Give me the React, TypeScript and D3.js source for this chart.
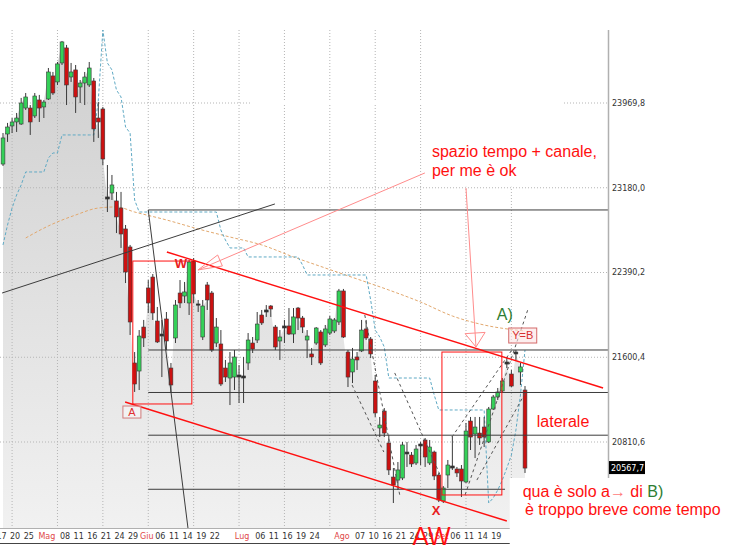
import React from 'react';
import * as d3 from 'd3';

// daily candles, [open, high, low, close]
const candles: [number, number, number, number][] = [
  [23401, 23690, 23383, 23644], [23681, 23784, 23607, 23746], [23756, 23830, 23690, 23793], [23793, 23877, 23700, 23830],
  [23774, 24017, 23765, 23970], [23923, 24063, 23905, 24026], [23923, 23951, 23672, 23793], [23849, 24063, 23830, 24035],
  [23998, 24045, 23793, 23923], [23933, 23998, 23830, 23979], [24007, 24296, 23998, 24259], [24222, 24259, 24045, 24063],
  [24166, 24352, 24138, 24334], [24343, 24548, 24324, 24539], [24483, 24511, 23951, 24138], [24212, 24343, 24166, 24259],
  [24278, 24324, 23877, 24026], [24119, 24184, 23970, 24156], [24156, 24259, 23951, 24212], [24138, 24352, 24119, 24296],
  [24175, 24203, 23607, 23728], [23830, 23979, 23644, 23793], [23914, 23933, 23392, 23448], [23094, 23392, 22954, 23075],
  [23131, 23299, 23066, 23206], [23057, 23141, 22758, 22908], [22991, 23141, 22619, 22749], [22796, 22833, 22292, 22395],
  [22628, 22647, 21808, 21929], [21547, 21649, 21277, 21351], [21472, 21854, 21295, 21798], [21882, 21948, 21696, 21780],
  [22246, 22320, 22013, 22106], [22348, 22376, 21948, 22013], [21938, 22069, 21733, 21743], [21817, 21948, 21416, 21798],
  [21957, 22022, 21668, 21752], [21500, 21547, 21267, 21342], [21780, 22134, 21733, 22087], [22199, 22320, 22059, 22106],
  [22171, 22302, 22106, 22209], [22106, 22507, 21994, 22488], [22497, 22525, 22106, 22190], [22097, 22134, 22022, 22087],
  [21789, 22134, 21761, 22078], [22274, 22302, 22041, 22134], [22199, 22218, 21649, 21668], [21733, 21966, 21696, 21882],
  [21724, 21854, 21332, 21351], [21500, 21575, 21370, 21416], [21407, 21649, 21155, 21547], [21416, 21668, 21295, 21603],
  [21435, 21528, 21174, 21416], [21407, 21603, 21174, 21426], [21547, 21826, 21482, 21761], [21733, 21789, 21640, 21677],
  [21761, 22022, 21733, 21910], [21994, 22041, 21901, 21920], [22041, 22087, 21976, 22022], [22078, 22087, 21976, 22050],
  [21882, 21901, 21668, 21696], [21752, 21854, 21575, 21789], [21892, 21948, 21733, 21873], [21892, 22059, 21808, 21817],
  [21817, 22059, 21733, 21976], [22059, 22069, 21854, 21966], [21966, 21985, 21826, 21882], [21761, 21854, 21593, 21798],
  [21631, 21687, 21528, 21603], [21733, 21882, 21715, 21873], [21836, 21854, 21528, 21547], [21715, 21901, 21696, 21864],
  [21826, 21985, 21808, 21957], [21845, 21966, 21826, 21948], [21929, 22237, 21901, 22218], [22218, 22237, 21780, 21789],
  [21649, 21668, 21323, 21416], [21463, 21687, 21360, 21584], [21603, 21649, 21482, 21575], [21659, 21948, 21649, 21854],
  [21864, 21948, 21761, 21780], [21770, 21789, 21593, 21631], [21379, 21435, 21044, 21081], [20941, 21044, 20857, 20969],
  [21099, 21127, 20857, 20894], [20801, 20876, 20503, 20550], [20484, 20568, 20242, 20410], [20456, 20624, 20363, 20550],
  [20475, 20811, 20456, 20783], [20717, 20811, 20578, 20699], [20689, 20717, 20578, 20606], [20615, 20783, 20596, 20745],
  [20792, 20811, 20596, 20773], [20829, 20848, 20578, 20671], [20615, 20829, 20596, 20764], [20717, 20730, 20456, 20494],
  [20503, 20522, 20251, 20270], [20261, 20400, 20242, 20382], [20503, 20643, 20382, 20596], [20587, 20866, 20550, 20568],
  [20559, 20578, 20484, 20522], [20559, 20596, 20298, 20447], [20438, 20988, 20428, 20913], [21006, 21044, 20736, 20857],
  [20885, 21044, 20661, 20950], [20894, 21044, 20783, 20848], [20950, 21044, 20764, 20857], [20811, 21137, 20801, 21118],
  [21118, 21249, 21109, 21230], [21230, 21314, 21202, 21277], [21286, 21407, 21267, 21379], [21556, 21603, 21500, 21537],
  [21444, 21482, 21323, 21332], [21649, 21668, 21575, 21631], [21463, 21547, 21342, 21510], [21295, 21332, 20522, 20567.7],
];

// trailing stop (cyan dashed), one value per candle
const trailStop = [
  22647, 22833, 22991, 23113, 23206, 23327, 23327, 23327, 23327, 23327,
  23457, 23504, 23504, 23672, 23672, 23672, 23672, 23672, 23672, 23672,
  23672, 23998, 24650, 24343, 24278, 24091, 24026, 23746, 23690, 23066,
  22954, 22954, 22954, 22954, 22954, 22954, 22954, 22954, 22954, 22954,
  22954, 22954, 22954, 22954, 22954, 22954, 22954, 22954, 22786, 22693,
  22619, 22619, 22619, 22619, 22535, 22535, 22535, 22535, 22535, 22535,
  22535, 22535, 22535, 22535, 22535, 22535, 22460, 22367, 22367, 22367,
  22367, 22367, 22367, 22367, 22367, 22367, 22367, 22367, 22367, 22367,
  22367, 22134, 21854, 21789, 21696, 21407, 21407, 21407, 21407, 21407,
  21407, 21407, 21407, 21407, 21407, 21249, 21109, 21109, 21109, 21109,
  21109, 21109, 21109, 21109, 21109, 21109, 21109, 20242, 20289, 20363,
  20456, 20568, 20689, 20922, 21249, 21668,
];

// moving average (tan dashed), [candle index, value]
const movingAvg: [number, number][] = [
  [5, 22712], [10, 22824], [16, 22926], [21, 22991], [25, 23001], [29, 22954],
  [36, 22880], [43, 22796], [50, 22721], [57, 22647], [64, 22535], [71, 22432],
  [78, 22330], [85, 22227], [92, 22115], [99, 21985], [106, 21901], [115, 21845],
];

const priceTicks = [23969.8, 23180.0, 22390.2, 21600.4, 20810.6];
const dateTicks: [number, string][] = [
  [0, '17'], [3, '20'], [6, '25'], [10, 'Mag'], [14, '08'], [17, '11'], [20, '16'], [23, '21'], [26, '24'], [29, '29'],
  [32, 'Giu'], [35, '06'], [38, '11'], [41, '14'], [44, '19'], [47, '22'], [53, 'Lug'], [57, '06'], [60, '11'], [63, '16'],
  [66, '19'], [69, '24'], [75, 'Ago'], [79, '07'], [82, '10'], [85, '16'], [88, '21'], [91, '24'], [94, '29'], [97, 'Set'],
  [100, '06'], [103, '11'], [106, '14'], [109, '19'],
];
const monthNames = ['Mag', 'Giu', 'Lug', 'Ago', 'Set'];

// hand drawn annotations, in [candle index, price]
const levels: [number, number, number | null][] = [
  [32, 22973, null], [32, 21668, null], [32, 21272, null], [32, 20874, null], [32, 20370, 110.6],
];
const blackLines: number[][] = [[-0.2, 22199, 59.9, 23029], [32, 22973, 40.75, 20009]];
const redLines: number[][] = [[36.1, 22581, 132.2, 21314], [26.9, 21183, 111, 20074]];
const redBoxes: number[][] = [[28.6, 22497, 41.6, 21165], [96.7, 21649, 109.9, 20317]];
const dashedLines: number[][] = [
  [79.7, 21994, 87.4, 20317], [76.9, 21342, 83.9, 20717], [86.3, 21454, 96.3, 20503],
  [98.9, 20857, 112.1, 21668], [101.8, 20317, 115.6, 22041], [104.4, 20456, 115.4, 21295],
];
const arrows: number[][] = [[92.95, 23318, 42.95, 22414, 24, 6], [102, 23178, 104.2, 21696, 14, 10]];

const W = 731;
const H = 552;
const plotTop = 30;
const plotBottom = 528;
const plotRight = 608;

const fmt = (v: number) => v.toFixed(1).replace('.', ',');

function arrowHead(tx: number, ty: number, fx: number, fy: number, len: number, half: number) {
  const dx = fx - tx, dy = fy - ty;
  const d = Math.hypot(dx, dy);
  const ux = dx / d, uy = dy / d;
  const bx = tx + ux * len, by = ty + uy * len;
  return `M${tx},${ty}L${bx - uy * half},${by + ux * half}L${bx + uy * half},${by - ux * half}Z`;
}

export default function App() {
  const x = d3.scaleLinear().domain([0, candles.length - 1]).range([3, 525]);
  const y = d3.scaleLinear().domain([20810.6, 23969.8]).range([442, 103]);

  const area = d3.area<[number, number, number, number]>()
    .x((_, i) => x(i))
    .y0(plotBottom)
    .y1(d => y(d[3]));
  const stopLine = d3.line<number>().x((_, i) => x(i)).y(d => y(d));
  const maLine = d3.line<[number, number]>().x(d => x(d[0])).y(d => y(d[1])).curve(d3.curveMonotoneX);

  const red = '#ff1010';
  const green = '#2e7d32';
  const annoFont = '"Liberation Sans", Arial, sans-serif';
  const axisFont = '"DejaVu Sans", Tahoma, sans-serif';

  const last = candles[candles.length - 1][3];
  const noteX = x(114.5);
  const noteY = y(20298);

  return (
    <svg width={W} height={H} style={{ position: 'absolute', left: 0, top: 0, background: '#fff' }}>
      <defs>
        <linearGradient id="areaGrad" gradientUnits="userSpaceOnUse" x1="0" y1="40" x2="0" y2={plotBottom}>
          <stop offset="0" stopColor="#cfcfcf" />
          <stop offset="1" stopColor="#f1f1f1" />
        </linearGradient>
        <clipPath id="plot">
          <rect x={0} y={plotTop} width={plotRight} height={plotBottom - plotTop} />
        </clipPath>
      </defs>

      <g clipPath="url(#plot)">
        <path d={area(candles) || ''} fill="url(#areaGrad)" />

        {/* grid */}
        {d3.range(2, candles.length, 10).map(i => (
          <line key={'gx' + i} x1={x(i)} x2={x(i)} y1={plotTop} y2={plotBottom}
            stroke="#b5b5b5" strokeDasharray="1,2" />
        ))}
        {priceTicks.map(t => (
          <line key={'gy' + t} x1={0} x2={plotRight} y1={y(t)} y2={y(t)}
            stroke="#b5b5b5" strokeDasharray="1,2" />
        ))}
        {/* erased parts of the screenshot */}
        <rect x={250} y={y(priceTicks[0]) - 2} width={313} height={4} fill="#fff" />
        <rect x={423} y={plotTop} width={139} height={y(priceTicks[1]) - plotTop - 1} fill="#fff" />

        <path d={maLine(movingAvg) || ''} fill="none" stroke="#e2a86e" strokeWidth={1} strokeDasharray="3,2" />
        <path d={stopLine(trailStop) || ''} fill="none" stroke="#5fa9c4" strokeWidth={1} strokeDasharray="3,2" />

        {/* candles */}
        {candles.map(([o, h, l, c], i) => {
          const doji = Math.abs(o - c) < 20;
          const up = c >= o;
          const top = y(Math.max(o, c));
          const bh = Math.max(1.2, y(Math.min(o, c)) - top);
          const fill = doji ? '#333' : up ? '#34d058' : '#cc1111';
          return (
            <g key={'c' + i}>
              <line x1={x(i)} x2={x(i)} y1={y(h)} y2={y(l)} stroke="#3a3a3a" strokeWidth={1} />
              <rect x={x(i) - 1.9} y={top} width={3.8} height={bh} fill={fill}
                stroke={doji ? '#333' : '#3a3a3a'} strokeWidth={0.6} />
            </g>
          );
        })}

        {/* drawings */}
        {levels.map(([i0, p, i1], k) => (
          <line key={'lv' + k} x1={x(i0)} x2={i1 === null ? plotRight : x(i1)} y1={y(p)} y2={y(p)}
            stroke="#3c3c3c" strokeWidth={1} />
        ))}
        {blackLines.map(([i0, p0, i1, p1], k) => (
          <line key={'bl' + k} x1={x(i0)} y1={y(p0)} x2={x(i1)} y2={y(p1)} stroke="#3c3c3c" strokeWidth={1} />
        ))}
        {dashedLines.map(([i0, p0, i1, p1], k) => (
          <line key={'dl' + k} x1={x(i0)} y1={y(p0)} x2={x(i1)} y2={y(p1)}
            stroke="#555" strokeWidth={1} strokeDasharray="3,3" />
        ))}
        {redBoxes.map(([i0, p0, i1, p1], k) => (
          <rect key={'rb' + k} x={x(i0)} y={y(p0)} width={x(i1) - x(i0)} height={y(p1) - y(p0)}
            fill="none" stroke={red} strokeWidth={1} />
        ))}
        {redLines.map(([i0, p0, i1, p1], k) => (
          <line key={'rl' + k} x1={x(i0)} y1={y(p0)} x2={x(i1)} y2={y(p1)} stroke={red} strokeWidth={1.4} />
        ))}
      </g>

      {arrows.map(([i0, p0, i1, p1, len, half], k) => (
        <g key={'ar' + k} stroke="#ff8c8c" strokeWidth={1} fill="none">
          <line x1={x(i0)} y1={y(p0)} x2={x(i1)} y2={y(p1)} />
          <path d={arrowHead(x(i1), y(p1), x(i0), y(p0), len, half)} />
        </g>
      ))}

      {/* right price axis */}
      <line x1={plotRight + 0.5} x2={plotRight + 0.5} y1={plotTop} y2={H} stroke="#b0b0b0" strokeWidth={1.5} />
      {priceTicks.map(t => (
        <text key={'yt' + t} x={plotRight + 4} y={y(t)} dy="0.35em" fontSize={8} fontFamily={axisFont} fill="#333">
          {fmt(t)}
        </text>
      ))}
      <rect x={plotRight + 1} y={y(last) - 7} width={36} height={13} fill="#000" />
      <text x={plotRight + 3} y={y(last)} dy="0.35em" fontSize={8} fontFamily={axisFont} fill="#fff">{fmt(last)}</text>

      {/* date axis */}
      <line x1={0} x2={plotRight} y1={plotBottom + 0.5} y2={plotBottom + 0.5} stroke="#b0b0b0" />
      <line x1={0} x2={plotRight} y1={543.5} y2={543.5} stroke="#444" />
      {dateTicks.map(([i, s]) => (
        <text key={'dt' + i} x={x(i) - 1.5} y={536} dy="0.35em" textAnchor="middle" fontSize={8}
          fontFamily={axisFont} fill={monthNames.includes(s) ? '#e04848' : '#333'}>
          {s}
        </text>
      ))}

      {/* labels */}
      <g fontFamily={annoFont}>
        <text x={x(39.2)} y={y(22432)} textAnchor="middle" fontSize={13} fontWeight="bold" fill="#e82020">W</text>
        <rect x={x(28.4) - 9} y={y(21146)} width={18} height={y(21034) - y(21146)} fill="#fff" fillOpacity={0.4}
          stroke="#d27b7b" />
        <text x={x(28.4)} y={y(21034) - 2} textAnchor="middle" fontSize={11} fill="#e03030">A</text>
        <rect x={x(114.5) - 14} y={y(21803) - 7.5} width={28} height={15} fill="#fbe3e3" fillOpacity={0.6}
          stroke="#d46a6a" />
        <text x={x(114.5)} y={y(21803)} dy="0.36em" textAnchor="middle" fontSize={11} fill="#d83030">Y=B</text>
        <text x={x(108.8)} y={y(21948)} fontSize={16} fill={green}>A)</text>
        <text x={x(95.4)} y={y(20130)} textAnchor="middle" fontSize={13} fontWeight="bold" fill="#e82020">X</text>
        <text x={x(117.6)} y={y(20950)} fontSize={16} fill={red}>laterale</text>
        <text x={x(94.5)} y={y(23467)} fontSize={16} fill={red}>spazio tempo + canale,</text>
        <text x={x(94.5)} y={y(23290)} fontSize={16} fill={red}>per me è ok</text>

        <rect x={noteX - 13} y={noteY - 19} width={W - noteX + 13} height={H - noteY + 19} fill="#fff" />
        <text x={noteX} y={noteY} fontSize={16} fill={red}>
          qua è solo a<tspan fill="#ff7a7a">→</tspan> di <tspan fill={green}>B)</tspan>
        </text>
        <text x={x(115)} y={y(20130)} fontSize={16} fill={red}>è troppo breve come tempo</text>

        <text x={x(94.4)} y={y(19851)} textAnchor="middle" fontSize={25} textLength={38} lengthAdjust="spacingAndGlyphs"
          fill={red}>AW</text>
      </g>
    </svg>
  );
}
